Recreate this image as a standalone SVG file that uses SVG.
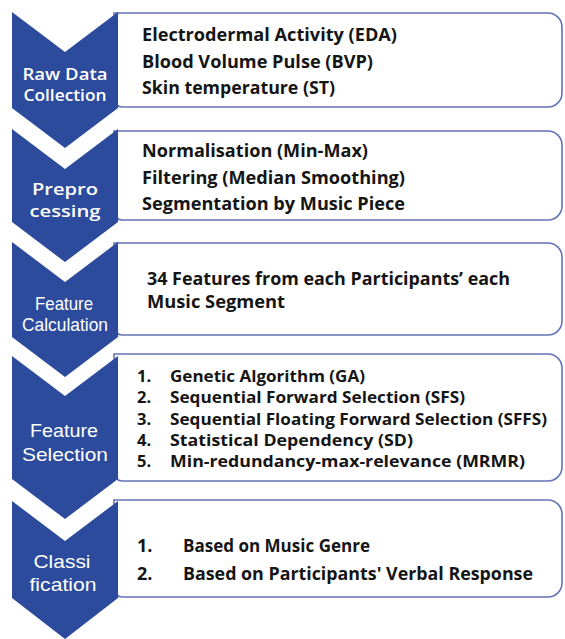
<svg xmlns="http://www.w3.org/2000/svg" width="565" height="639" viewBox="0 0 565 639">
<style>
.chev{fill:#2d4b9c;}
.box{fill:#ffffff;stroke:#6373b8;stroke-width:1.6;}
.t{font-family:"Open Sans",Lato,sans-serif;font-weight:bold;font-size:18px;fill:#151515;}
.s{font-family:"Open Sans",Lato,sans-serif;font-weight:bold;font-size:16.5px;fill:#151515;}
.lc{font-family:"Open Sans",sans-serif;font-size:16px;fill:#ffffff;text-anchor:middle;}
.la{font-family:"Liberation Sans",Arial,sans-serif;font-size:19px;fill:#ffffff;text-anchor:middle;}
</style>
<rect width="565" height="639" fill="#ffffff"/>
<g id="boxes">
<g id="box1"><path class="box" d="M114,13 H548 A14,14 0 0 1 562,27 V93 A14,14 0 0 1 548,107 H122 A8,8 0 0 1 114,99 Z"/>
<text class="t" x="142" y="41" textLength="255" lengthAdjust="spacingAndGlyphs">Electrodermal Activity (EDA)</text>
<text class="t" x="142" y="68" textLength="231" lengthAdjust="spacingAndGlyphs">Blood Volume Pulse (BVP)</text>
<text class="t" x="142" y="94" textLength="193" lengthAdjust="spacingAndGlyphs">Skin temperature (ST)</text></g>
<g id="box2"><path class="box" d="M114,131 H548 A14,14 0 0 1 562,145 V206 A14,14 0 0 1 548,220 H122 A8,8 0 0 1 114,212 Z"/>
<text class="t" x="142" y="157" textLength="226" lengthAdjust="spacingAndGlyphs">Normalisation (Min-Max)</text>
<text class="t" x="142" y="184" textLength="263" lengthAdjust="spacingAndGlyphs">Filtering (Median Smoothing)</text>
<text class="t" x="142" y="210" textLength="263" lengthAdjust="spacingAndGlyphs">Segmentation by Music Piece</text></g>
<g id="box3"><path class="box" d="M114,243 H548 A14,14 0 0 1 562,257 V321 A14,14 0 0 1 548,335 H122 A8,8 0 0 1 114,327 Z"/>
<text class="t" x="147" y="285" textLength="363" lengthAdjust="spacingAndGlyphs">34 Features from each Participants’ each</text>
<text class="t" x="147" y="308" textLength="138" lengthAdjust="spacingAndGlyphs">Music Segment</text></g>
<g id="box4"><path class="box" d="M114,354 H548 A14,14 0 0 1 562,368 V467 A14,14 0 0 1 548,481 H122 A8,8 0 0 1 114,473 Z"/>
<text class="s" x="137" y="382">1.</text><text class="s" x="170" y="382" textLength="195" lengthAdjust="spacingAndGlyphs">Genetic Algorithm (GA)</text>
<text class="s" x="137" y="403">2.</text><text class="s" x="170" y="403" textLength="295" lengthAdjust="spacingAndGlyphs">Sequential Forward Selection (SFS)</text>
<text class="s" x="137" y="425">3.</text><text class="s" x="170" y="425" textLength="377" lengthAdjust="spacingAndGlyphs">Sequential Floating Forward Selection (SFFS)</text>
<text class="s" x="137" y="446">4.</text><text class="s" x="170" y="446" textLength="243" lengthAdjust="spacingAndGlyphs">Statistical Dependency (SD)</text>
<text class="s" x="137" y="467">5.</text><text class="s" x="170" y="467" textLength="355" lengthAdjust="spacingAndGlyphs">Min-redundancy-max-relevance (MRMR)</text></g>
<g id="box5"><path class="box" d="M114,500 H548 A14,14 0 0 1 562,514 V583 A14,14 0 0 1 548,597 H122 A8,8 0 0 1 114,589 Z"/>
<text class="t" x="137" y="552">1.</text><text class="t" x="183" y="552" textLength="187" lengthAdjust="spacingAndGlyphs">Based on Music Genre</text>
<text class="t" x="137" y="580">2.</text><text class="t" x="183" y="580" textLength="350" lengthAdjust="spacingAndGlyphs">Based on Participants' Verbal Response</text></g>
</g>
<g id="chevrons">
<g id="chev1"><polygon class="chev" points="12,12 65,52 118,12 118,108 65,148 12,108"/>
<text class="lc" x="65" y="80" font-weight="600" textLength="85" lengthAdjust="spacingAndGlyphs">Raw Data</text>
<text class="lc" x="65" y="101" font-weight="600" textLength="83" lengthAdjust="spacingAndGlyphs">Collection</text></g>
<g id="chev2"><polygon class="chev" points="12,129 65,169 118,129 118,222 65,262 12,222"/>
<text class="lc" x="65" y="195" font-weight="600" font-size="19" textLength="66" lengthAdjust="spacingAndGlyphs">Prepro</text>
<text class="lc" x="65" y="217" font-weight="600" font-size="19" textLength="71" lengthAdjust="spacingAndGlyphs">cessing</text></g>
<g id="chev3"><polygon class="chev" points="12,242 65,282 118,242 118,337 65,377 12,337"/>
<text class="la" x="64" y="310" font-size="16" textLength="58" lengthAdjust="spacingAndGlyphs">Feature</text>
<text class="la" x="65" y="331" font-size="16" textLength="86" lengthAdjust="spacingAndGlyphs">Calculation</text></g>
<g id="chev4"><polygon class="chev" points="12,356 65,396 118,356 118,479 65,519 12,479"/>
<text class="la" x="64" y="437" textLength="68" lengthAdjust="spacingAndGlyphs">Feature</text>
<text class="la" x="65" y="461" textLength="86" lengthAdjust="spacingAndGlyphs">Selection</text></g>
<g id="chev5"><polygon class="chev" points="12,501 65,541 118,501 118,598 65,639 12,598"/>
<text class="la" x="62" y="568" textLength="57" lengthAdjust="spacingAndGlyphs">Classi</text>
<text class="la" x="63" y="591" textLength="67" lengthAdjust="spacingAndGlyphs">fication</text></g>
</g>
</svg>
